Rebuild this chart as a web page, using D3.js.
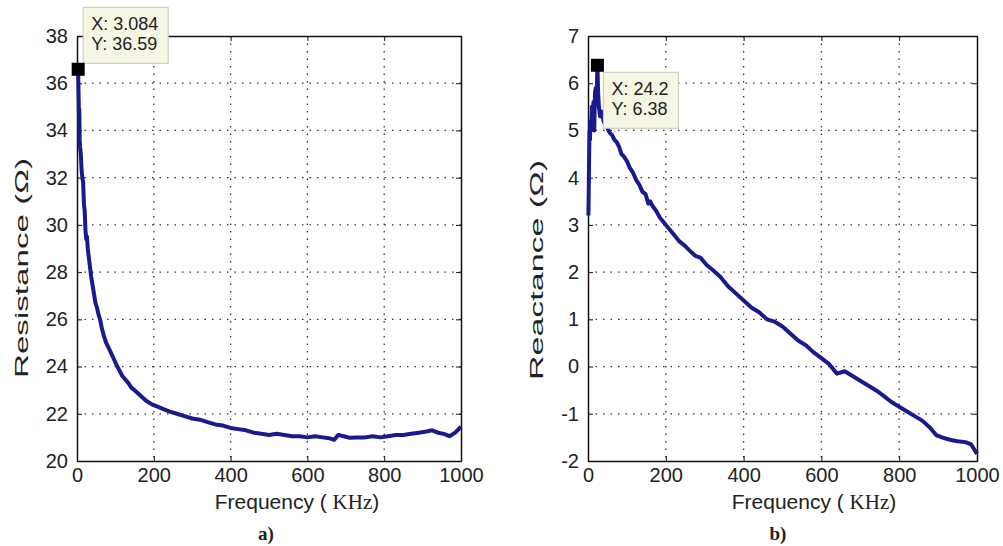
<!DOCTYPE html>
<html lang="en">
<head>
    <meta charset="UTF-8">
    <title></title>
    <style type="text/css">
        html, body { padding:0; margin:0; background:#fff; }
        text { font-family: "Liberation Sans", Arial, sans-serif; fill:#222; }
    </style>
</head>
<body>
<script src="https://d3js.org/d3.v7.min.js"></script>
<script>
    var width = 1003,
        height = 546;

    // resistance (left panel)
    var freqR = [3.084, 4, 5, 6, 7, 8, 10, 12, 14, 16, 18, 20, 22, 24, 26, 28, 31, 34, 37, 40,
                 44, 48, 52, 56, 60, 65, 70, 76, 82, 88, 95, 102, 110, 118, 126, 134, 142, 150, 160, 170,
                 180, 195, 210, 225, 240, 260, 280, 300, 320, 340, 360, 380, 400, 420, 440, 460, 480, 500, 520, 540,
                 560, 580, 600, 620, 640, 660, 670, 680, 695, 710, 730, 750, 770, 790, 810, 830, 850, 870, 890, 910,
                 925, 940, 955, 970, 985, 1000];
    var resistance = [36.59, 35.6, 34.8, 34.9, 33.6, 33.3, 33.0, 32.3, 32.0, 31.8, 30.9, 30.6, 29.8, 29.4, 29.5, 29.0, 28.6, 28.2, 27.8, 27.5,
                      27.1, 26.7, 26.5, 26.2, 26.0, 25.6, 25.3, 25.0, 24.8, 24.6, 24.35, 24.1, 23.85, 23.6, 23.45, 23.3, 23.1, 23.0, 22.85, 22.7,
                      22.55, 22.4, 22.3, 22.2, 22.1, 22.0, 21.9, 21.8, 21.75, 21.65, 21.55, 21.5, 21.4, 21.35, 21.3, 21.2, 21.15, 21.1, 21.15, 21.1,
                      21.05, 21.05, 21.0, 21.05, 21.0, 20.95, 20.9, 21.1, 21.05, 20.98, 21.0, 21.0, 21.05, 21.0, 21.05, 21.1, 21.1, 21.15, 21.2, 21.25,
                      21.3, 21.2, 21.15, 21.05, 21.2, 21.45];

    // reactance (right panel)
    var freqX = [1, 2, 3, 4, 5, 6, 8, 10, 12, 14, 16, 18, 20, 22, 24.2, 26, 28, 31, 35, 40,
                 45, 50, 56, 62, 68, 74, 80, 86, 92, 100, 108, 116, 124, 132, 140, 148, 155, 160, 166, 175,
                 185, 195, 205, 220, 235, 250, 262, 275, 290, 305, 320, 340, 360, 380, 400, 420, 440, 460, 480, 500,
                 520, 540, 560, 580, 600, 620, 640, 660, 680, 700, 720, 740, 760, 780, 800, 820, 840, 860, 880, 895,
                 910, 930, 950, 970, 985, 1000];
    var reactance = [3.2, 3.8, 4.5, 5.0, 4.8, 5.2, 5.0, 5.5, 5.3, 5.6, 5.0, 5.8, 5.9, 5.6, 6.38, 5.8, 5.5, 5.3, 5.4, 5.2,
                     5.1, 5.05, 4.95, 4.9, 4.8, 4.75, 4.65, 4.5, 4.45, 4.35, 4.2, 4.1, 3.95, 3.85, 3.7, 3.65, 3.45, 3.5, 3.4, 3.3,
                     3.15, 3.05, 2.95, 2.8, 2.65, 2.55, 2.45, 2.35, 2.3, 2.15, 2.05, 1.9, 1.7, 1.55, 1.4, 1.25, 1.15, 1.0, 0.95, 0.85,
                     0.7, 0.55, 0.45, 0.3, 0.18, 0.05, -0.15, -0.1, -0.2, -0.3, -0.4, -0.5, -0.62, -0.75, -0.85, -0.95, -1.05, -1.15, -1.3, -1.45,
                     -1.5, -1.55, -1.58, -1.6, -1.65, -1.85];

    var xTicks = [0, 200, 400, 600, 800, 1000];
    var resTicks = [20, 22, 24, 26, 28, 30, 32, 34, 36, 38];
    var reaTicks = [-2, -1, 0, 1, 2, 3, 4, 5, 6, 7];

    var svg = d3.select('body').append('svg')
                .attr('width', width)
                .attr('height', height);

    function plain(d) { return String(d); }

    function panel(opts) {
        var x = d3.scaleLinear().domain([0, 1000]).range([opts.left, opts.right]),
            y = d3.scaleLinear().domain(opts.yDomain).range([opts.bottom, opts.top]);

        var g = svg.append('g');

        // dotted grid
        g.selectAll('line.gx')
         .data(xTicks.slice(1, -1))
         .enter().append('line')
         .attr('x1', function(d){ return x(d); }).attr('x2', function(d){ return x(d); })
         .attr('y1', opts.top).attr('y2', opts.bottom)
         .attr('stroke', '#333').attr('stroke-width', 1.3).attr('stroke-dasharray', '1.5,6');

        g.selectAll('line.gy')
         .data(opts.yTicks.slice(1, -1))
         .enter().append('line')
         .attr('y1', function(d){ return y(d); }).attr('y2', function(d){ return y(d); })
         .attr('x1', opts.left).attr('x2', opts.right)
         .attr('stroke', '#333').attr('stroke-width', 1.3).attr('stroke-dasharray', '1.5,6');

        // axes, ticks inside like matlab
        g.append('g')
         .attr('transform', 'translate(0,' + opts.bottom + ')')
         .call(d3.axisBottom(x).tickValues(xTicks).tickFormat(plain).tickSizeInner(-5).tickSizeOuter(0).tickPadding(7));
        g.append('g')
         .attr('transform', 'translate(0,' + opts.top + ')')
         .call(d3.axisTop(x).tickValues(xTicks).tickSizeInner(-5).tickSizeOuter(0).tickFormat(''));
        g.append('g')
         .attr('transform', 'translate(' + opts.left + ',0)')
         .call(d3.axisLeft(y).tickValues(opts.yTicks).tickFormat(plain).tickSizeInner(-5).tickSizeOuter(0).tickPadding(9));
        g.append('g')
         .attr('transform', 'translate(' + opts.right + ',0)')
         .call(d3.axisRight(y).tickValues(opts.yTicks).tickSizeInner(-5).tickSizeOuter(0).tickFormat(''));

        g.selectAll('.domain').attr('stroke', '#111').attr('stroke-width', 1.5);
        g.selectAll('.tick line').attr('stroke', '#111');
        g.selectAll('.tick text')
         .style('font-family', '"Liberation Sans", Arial, sans-serif')
         .style('font-size', '20px')
         .attr('fill', '#333');

        // curve
        var pts = opts.xs.map(function(f, i){ return [f, opts.ys[i]]; });
        var line = d3.line()
                     .x(function(d){ return x(d[0]); })
                     .y(function(d){ return y(d[1]); });
        g.append('path')
         .attr('d', line(pts))
         .attr('fill', 'none')
         .attr('stroke', '#1a1a8f')
         .attr('stroke-width', 4)
         .attr('stroke-linejoin', 'round');

        // labels
        var xl = g.append('text')
         .attr('x', opts.xLabelX).attr('y', 509)
         .attr('text-anchor', 'middle')
         .style('font-size', '21px')
         .attr('fill', '#333');
        xl.append('tspan').text('Frequency ( ');
        xl.append('tspan').style('font-family', '"Liberation Serif", serif').text('KHz');
        xl.append('tspan').text(')');

        g.append('text')
         .attr('transform', 'translate(' + opts.yLabelX + ',' + opts.yLabelY + ') rotate(-90)')
         .attr('text-anchor', 'middle')
         .attr('dy', '0.35em')
         .attr('textLength', 220)
         .attr('lengthAdjust', 'spacingAndGlyphs')
         .style('font-size', '18px')
         .attr('fill', '#333')
         .text(opts.yLabel);

        g.append('text')
         .attr('x', opts.capX).attr('y', 540)
         .attr('text-anchor', 'middle')
         .style('font-family', '"Liberation Serif", "Times New Roman", serif')
         .style('font-weight', 'bold')
         .style('font-size', '19px')
         .attr('fill', '#111')
         .text(opts.caption);

        // data tip
        var tx = x(opts.tip[0]), ty = y(opts.tip[1]);
        var bx = tx + opts.tipBox[0], by = ty + opts.tipBox[1];
        g.append('rect')
         .attr('x', bx).attr('y', by)
         .attr('width', opts.tipBox[2]).attr('height', 56)
         .attr('fill', '#f6f6e4')
         .attr('stroke', '#c8c8b8').attr('stroke-width', 1);
        g.append('text')
         .attr('x', bx + 8).attr('y', by + 23)
         .style('font-size', '18px')
         .attr('fill', '#222')
         .text('X: ' + opts.tipText[0]);
        g.append('text')
         .attr('x', bx + 8).attr('y', by + 43)
         .style('font-size', '18px')
         .attr('fill', '#222')
         .text('Y: ' + opts.tipText[1]);
        g.append('rect')
         .attr('x', tx - 6.5).attr('y', ty - 6.5)
         .attr('width', 13).attr('height', 13)
         .attr('fill', '#000');
    }

    panel({
        left: 77, right: 461, top: 36, bottom: 461,
        yDomain: [20, 38], yTicks: resTicks,
        xs: freqR, ys: resistance,
        xLabelX: 297, yLabelX: 22, yLabelY: 268,
        yLabel: 'Resistance (\u03A9)', caption: 'a)', capX: 266,
        tip: [3.084, 36.59], tipText: ['3.084', '36.59'], tipBox: [5, -62, 85]
    });

    panel({
        left: 588, right: 977, top: 36, bottom: 461,
        yDomain: [-2, 7], yTicks: reaTicks,
        xs: freqX, ys: reactance,
        xLabelX: 814, yLabelX: 537, yLabelY: 270,
        yLabel: 'Reactance (\u03A9)', caption: 'b)', capX: 778,
        tip: [24.2, 6.38], tipText: ['24.2', '6.38'], tipBox: [6, 7, 75]
    });
</script>
</body>
</html>
